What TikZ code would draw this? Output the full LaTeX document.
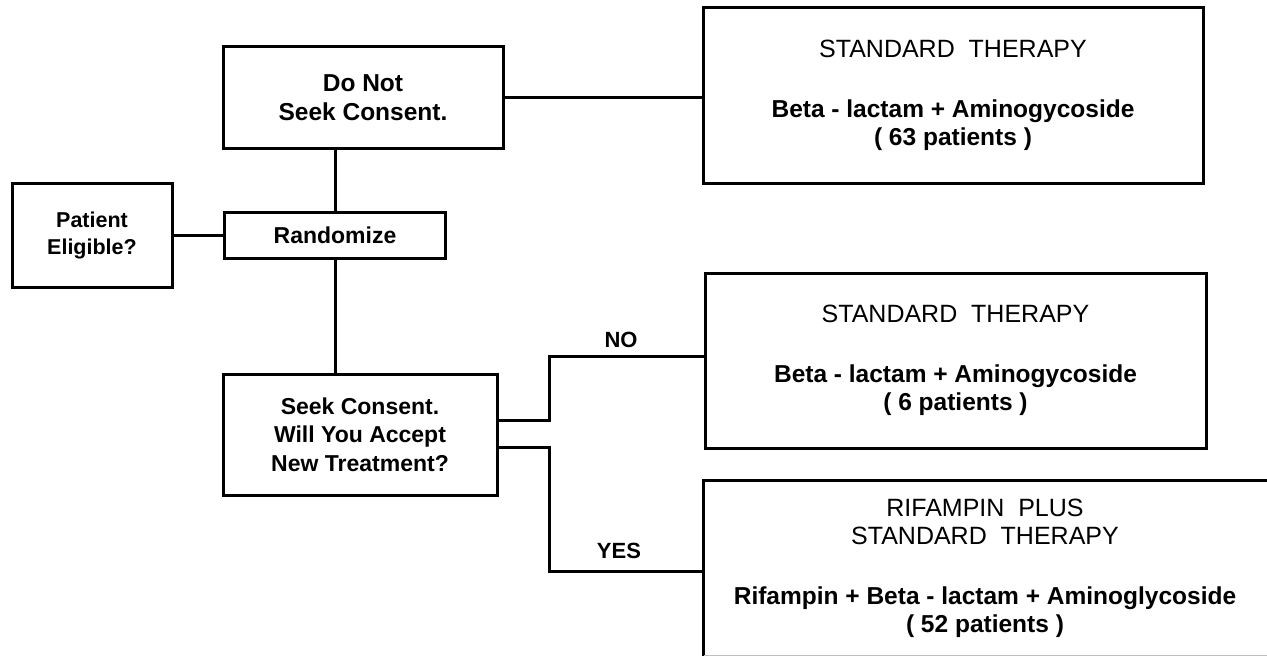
\documentclass[tikz,border=0pt]{standalone}
\usepackage{fontspec}
\setmainfont{Liberation Sans}
\usetikzlibrary{positioning}

\begin{document}
\begin{tikzpicture}[x=1pt, y=-1pt]
% Define styles
\tikzstyle{question} = [rectangle, draw, line width=3pt, inner sep=0pt, align=center, font=\fontsize{23}{28.5}\selectfont\bfseries]
\tikzstyle{therapy} = [rectangle, draw, line width=3pt, inner sep=0pt, align=center, font=\fontsize{25}{28}\selectfont]
\tikzstyle{line} = [line width=3pt]
\tikzstyle{answer} = [font=\fontsize{22}{26}\selectfont\bfseries]

\useasboundingbox (0,0) rectangle (1267,661);
\clip (0,0) rectangle (1267,661);

% Nodes
\node (elig) [question, font=\fontsize{21.5}{27}\selectfont\bfseries, minimum width=160, minimum height=104] at (92,235) {Patient\\Eligible?};
\node (rand) [question, minimum width=221, minimum height=46] at (335,235) {Randomize};
\node (noconsent) [question, font=\fontsize{24.5}{29}\selectfont\bfseries, minimum width=280, minimum height=101] at (363,97.5) {Do Not\\Seek Consent.};
\node (consent) [question, minimum width=274, minimum height=121] at (360,434.5) {Seek Consent.\\Will You Accept\\New Treatment?};
\node (std1) [therapy, minimum width=500, minimum height=175] at (953,95.5)
  {STANDARD\ \ THERAPY\\[32pt]\textbf{\fontsize{24.5}{28}\selectfont Beta - lactam + Aminogycoside}\\\textbf{\fontsize{24.5}{28}\selectfont( 63 patients )}};
\node (std2) [therapy, minimum width=501, minimum height=175] at (955.5,360.5)
  {STANDARD\ \ THERAPY\\[32pt]\textbf{\fontsize{24.5}{28}\selectfont Beta - lactam + Aminogycoside}\\\textbf{\fontsize{24.5}{28}\selectfont( 6 patients )}};
\node (rif) [therapy, draw=none, minimum width=560, minimum height=172] at (985,568)
  {RIFAMPIN\ \ PLUS\\STANDARD\ \ THERAPY\\[32pt]\textbf{\fontsize{24.5}{28}\selectfont Rifampin + Beta - lactam + Aminoglycoside}\\\textbf{\fontsize{24.5}{28}\selectfont( 52 patients )}};
\draw[line] (rif.south west) -- (rif.north west) -- (rif.north east);
\draw[black!25, thin] (rif.south west) -- (rif.south east);

% Connectors
\draw[line] (elig) -- (rand);
\draw[line] (rand.north) -- (rand.north |- noconsent.south);
\draw[line] (rand.south) -- (rand.south |- consent.north);
\draw[line] (noconsent.east) -- (noconsent.east -| std1.west);
\draw[line] ([yshift=14.5pt]consent.east) -- ++(51,0) |- ([yshift=4.5pt]std2.west);
\draw[line] ([yshift=-12.5pt]consent.east) -- ++(51,0) |- ([yshift=-3pt]rif.west);

% Answers
\node (no) [answer] at (621,340) {NO};
\node (yes) [answer] at (619,551) {YES};
\end{tikzpicture}
\end{document}
